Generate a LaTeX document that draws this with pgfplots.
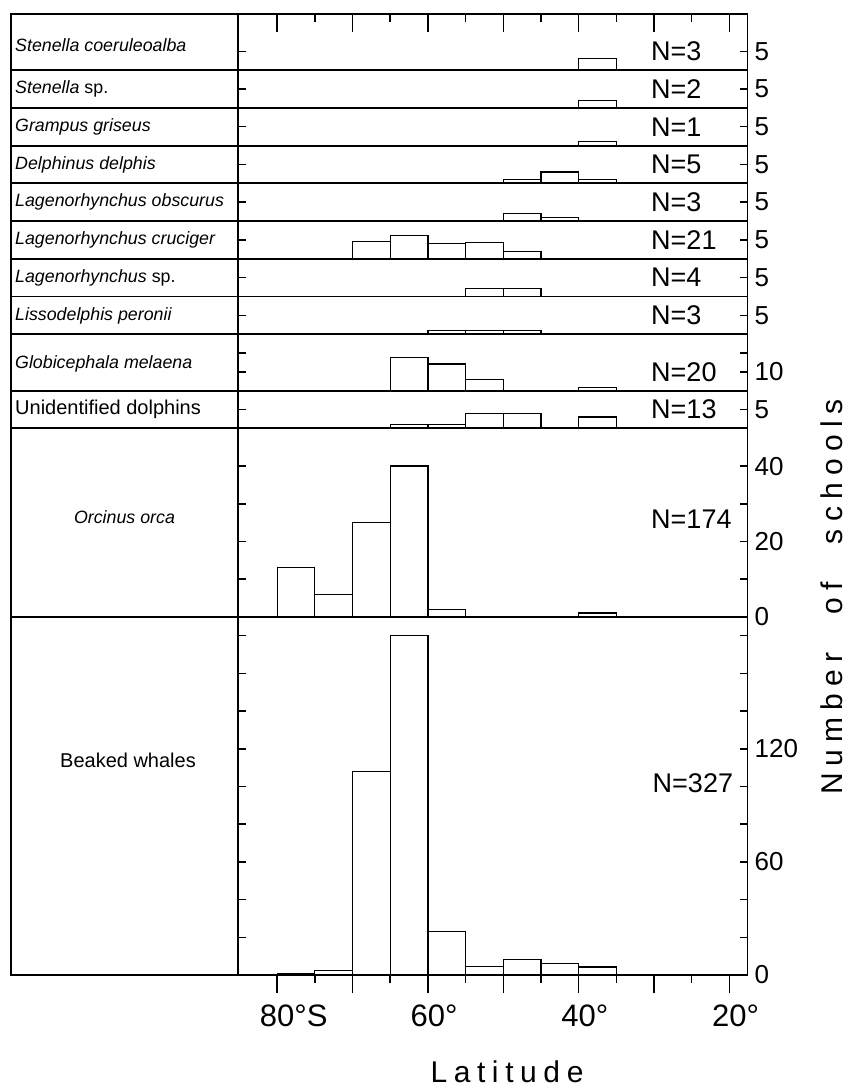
\documentclass[border=0pt]{standalone}
\usepackage{pgfplots}
\pgfplotsset{compat=1.18}
\usepackage{fontspec}
\setmainfont{Liberation Sans}

\newcommand\nfont{\fontsize{27}{30}\selectfont}
\newcommand\tfont{\fontsize{26}{30}\selectfont}
\newcommand\xfont{\fontsize{31}{34}\selectfont}
\newcommand\spfont{\fontsize{17.8}{20}\selectfont}
\newcommand\upfont{\fontsize{20}{24}\selectfont}

\tikzset{nlab/.style={anchor=west, inner sep=0pt, font=\nfont}}
\pgfplotsset{
 panel/.style={scale only axis, width=509.8pt, xmin=17.6, xmax=85.24, x dir=reverse, ymin=0,
  anchor=south west, axis line style={line width=1.8pt, black}, xtick=\empty,
  tick align=inside, ytick pos=both, yticklabel pos=right, major tick length=8pt,
  tick style={line width=1.5pt, black},
  yticklabel style={font=\tfont, anchor=west, inner sep=0pt, xshift=7pt},
  clip=false},
 bars/.style={ybar, bar width=5, bar shift=0pt, fill=white, draw=black, line width=1.2pt},
 xover/.style={ytick=\empty, axis line style={draw=none}, xtick={20,30,...,80},
  minor xtick={25,35,...,75}, major tick length=18pt, minor tick length=8pt},
}

\begin{document}
\begin{tikzpicture}[x=1pt,y=1pt]
\useasboundingbox (0,0) rectangle (848,-1089);

% left label box
\draw[line width=1.8pt] (11,-13.65) rectangle (237.7,-975);
\foreach \yy in {70.2,107.9,145.6,183.3,221.0,258.7,296.4,334.1,390.65,428.35,616.85}
  \draw[line width=1.8pt] (11,-\yy) -- (237.7,-\yy);

\node[anchor=west, inner sep=0pt, font=\spfont] at (15,-45) {\textit{Stenella coeruleoalba}};
\node[anchor=west, inner sep=0pt, font=\spfont] at (15,-89) {\textit{Stenella} sp.};
\node[anchor=west, inner sep=0pt, font=\spfont] at (15,-127) {\textit{Grampus griseus}};
\node[anchor=west, inner sep=0pt, font=\spfont] at (15,-164.5) {\textit{Delphinus delphis}};
\node[anchor=west, inner sep=0pt, font=\spfont] at (15,-202) {\textit{Lagenorhynchus obscurus}};
\node[anchor=west, inner sep=0pt, font=\spfont] at (15,-240) {\textit{Lagenorhynchus cruciger}};
\node[anchor=west, inner sep=0pt, font=\spfont] at (15,-278) {\textit{Lagenorhynchus} sp.};
\node[anchor=west, inner sep=0pt, font=\spfont] at (15,-315.5) {\textit{Lissodelphis peronii}};
\node[anchor=west, inner sep=0pt, font=\spfont] at (15,-364) {\textit{Globicephala melaena}};
\node[anchor=west, inner sep=0pt, font=\upfont] at (15,-409.5) {Unidentified dolphins};
\node[inner sep=0pt, font=\spfont] at (124.5,-517) {\textit{Orcinus orca}};
\node[inner sep=0pt, font=\upfont] at (128,-760) {Beaked whales};

% 1 Stenella coeruleoalba
\begin{axis}[panel, at={(237.7pt,-70.2pt)}, height=56.55pt, ymax=15, ytick={5}, yticklabels={5}]
\addplot[bars] coordinates {(37.5,3)};
\node[nlab] at (axis cs:30.4,5) {N=3};
\end{axis}
\begin{axis}[panel, xover, at={(237.7pt,-70.2pt)}, height=56.55pt, ymax=15, xticklabels={}, xtick pos=right]
\end{axis}

% 2 Stenella sp.
\begin{axis}[panel, at={(237.7pt,-107.9pt)}, height=37.7pt, ymax=10, ytick={5}, yticklabels={5}]
\addplot[bars] coordinates {(37.5,2)};
\node[nlab] at (axis cs:30.4,5) {N=2};
\end{axis}

% 3 Grampus
\begin{axis}[panel, at={(237.7pt,-145.6pt)}, height=37.7pt, ymax=10, ytick={5}, yticklabels={5}]
\addplot[bars] coordinates {(37.5,1)};
\node[nlab] at (axis cs:30.4,5) {N=1};
\end{axis}

% 4 Delphinus
\begin{axis}[panel, at={(237.7pt,-183.3pt)}, height=37.7pt, ymax=10, ytick={5}, yticklabels={5}]
\addplot[bars] coordinates {(47.5,1) (42.5,3) (37.5,1)};
\node[nlab] at (axis cs:30.4,5) {N=5};
\end{axis}

% 5 L. obscurus
\begin{axis}[panel, at={(237.7pt,-221.0pt)}, height=37.7pt, ymax=10, ytick={5}, yticklabels={5}]
\addplot[bars] coordinates {(47.5,2) (42.5,1)};
\node[nlab] at (axis cs:30.4,5) {N=3};
\end{axis}

% 6 L. cruciger
\begin{axis}[panel, at={(237.7pt,-258.7pt)}, height=37.7pt, ymax=10, ytick={5}, yticklabels={5}]
\addplot[bars] coordinates {(67.5,4.6) (62.5,6.2) (57.5,4.1) (52.5,4.2) (47.5,2)};
\node[nlab] at (axis cs:30.4,5) {N=21};
\end{axis}

% 7 Lagenorhynchus sp.
\begin{axis}[panel, at={(237.7pt,-296.4pt)}, height=37.7pt, ymax=10, ytick={5}, yticklabels={5}]
\addplot[bars] coordinates {(52.5,2) (47.5,2)};
\node[nlab] at (axis cs:30.4,5) {N=4};
\end{axis}

% 8 Lissodelphis
\begin{axis}[panel, at={(237.7pt,-334.1pt)}, height=37.7pt, ymax=10, ytick={5}, yticklabels={5}]
\addplot[bars] coordinates {(57.5,1) (52.5,1) (47.5,1)};
\node[nlab] at (axis cs:30.4,5) {N=3};
\end{axis}

% 9 Globicephala
\begin{axis}[panel, at={(237.7pt,-390.65pt)}, height=56.55pt, ymax=30, ytick={10,20}, yticklabels={10,}]
\addplot[bars] coordinates {(62.5,17.6) (57.5,14.1) (52.5,5.8) (37.5,1.8)};
\node[nlab] at (axis cs:30.4,10) {N=20};
\end{axis}

% 10 Unidentified dolphins
\begin{axis}[panel, at={(237.7pt,-428.35pt)}, height=37.7pt, ymax=10, ytick={5}, yticklabels={5}]
\addplot[bars] coordinates {(62.5,1) (57.5,1) (52.5,4) (47.5,4) (37.5,3)};
\node[nlab] at (axis cs:30.4,5) {N=13};
\end{axis}

% 11 Orcinus orca
\begin{axis}[panel, at={(237.7pt,-616.85pt)}, height=188.5pt, ymax=50, ytick={0,10,20,30,40}, yticklabels={0,,20,,40}]
\addplot[bars] coordinates {(77.5,13) (72.5,6) (67.5,25) (62.5,40) (57.5,2) (37.5,1)};
\node[nlab] at (axis cs:30.4,26) {N=174};
\end{axis}

% 12 Beaked whales
\begin{axis}[panel, at={(237.7pt,-975pt)}, height=358.15pt, ymax=190, ytick={0,20,...,180}, yticklabels={0,,,60,,,120,,,}]
\addplot[bars] coordinates {(77.5,1) (72.5,2.3) (67.5,108) (62.5,180) (57.5,23) (52.5,4.4) (47.5,8.1) (42.5,6) (37.5,4.2)};
\node[nlab] at (axis cs:30.2,102) {N=327};
\end{axis}
\begin{axis}[panel, xover, at={(237.7pt,-975pt)}, height=358.15pt, ymax=190, tick align=outside, xtick pos=left, xticklabel pos=left,
  xticklabels={20\rlap{°},,40\rlap{°},,60\rlap{°},,80\rlap{°S}},
  xticklabel style={font=\xfont, inner sep=0pt, yshift=-12pt}]
\end{axis}

\node[inner sep=0pt, font={\fontsize{30}{34}\selectfont\addfontfeatures{LetterSpace=22}}] at (507,-1072) {Latitude};
\node[inner sep=0pt, rotate=90, font={\fontsize{30}{34}\selectfont\addfontfeatures{LetterSpace=24}}] at (832,-597) {Number\hspace{38pt}of\hspace{38pt}schools};
\end{tikzpicture}
\end{document}
